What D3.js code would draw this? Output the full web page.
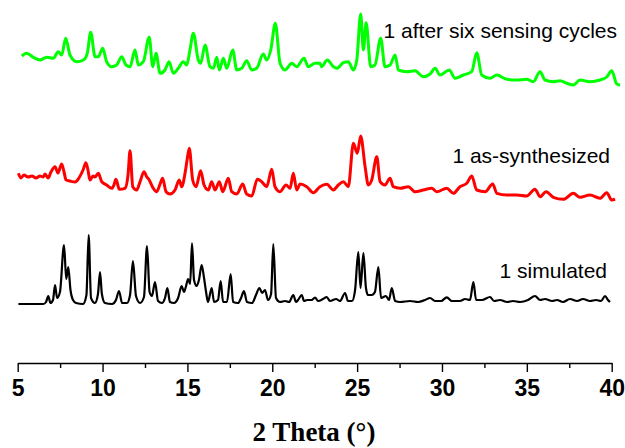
<!DOCTYPE html>
<html>
<head>
<meta charset="utf-8">
<script src="https://cdn.jsdelivr.net/npm/d3@7"></script>
<style>
  body { margin: 0; background: #fff; }
  #chart { width: 625px; height: 448px; }
</style>
</head>
<body>
<div id="chart"></div>
<script>
// PXRD patterns, [2theta, intensity (a.u., traces stacked)]
const simulated = [
  [5.04,59],[6.51,59],[6.67,61],[6.80,67],[6.93,60],[7.08,63],[7.20,78],[7.32,65],[7.49,71],
  [7.73,118],[7.86,84],[7.98,96],[8.11,73],[8.26,63],[8.44,60],[8.85,59],[9.05,68],[9.18,128],
  [9.32,65],[9.55,60],[9.73,69],[9.85,91],[9.96,69],[10.14,60],[10.56,59],[10.79,63],[10.97,72],
  [11.15,60],[11.44,60],[11.62,68],[11.79,102],[11.97,67],[12.21,60],[12.44,66],[12.62,117],
  [12.77,71],[12.91,67],[13.09,81],[13.27,62],[13.50,60],[13.68,65],[13.82,75],[13.97,61],
  [14.21,60],[14.45,65],[14.66,77],[14.80,71],[14.92,77],[15.04,84],[15.16,79],[15.27,120],
  [15.39,83],[15.54,77],[15.68,83],[15.84,98],[15.98,85],[16.10,71],[16.21,61],[16.43,75],
  [16.57,61],[16.80,63],[16.96,82],[17.10,61],[17.33,61],[17.55,89],[17.69,61],[17.98,60],
  [18.16,65],[18.33,72],[18.51,61],[18.81,60],[19.04,68],[19.24,75],[19.40,70],[19.57,73],
  [19.75,63],[19.93,69],[20.06,119],[20.22,65],[20.46,61],[20.75,62],[20.99,61],[21.24,68],
  [21.40,61],[21.52,63],[21.74,68],[21.87,62],[22.05,63],[22.32,63],[22.52,65.5],[22.70,62],
  [22.99,64],[23.21,66],[23.40,62],[23.76,64],[23.99,62],[24.29,70],[24.46,62],[24.70,62],
  [24.88,73],[25.07,111],[25.20,75],[25.37,110],[25.52,75],[25.64,68],[25.86,68],[26.05,71],
  [26.25,96],[26.41,65],[26.70,67],[26.88,63],[27.04,75],[27.24,62],[27.53,61],[28.12,62],
  [28.59,61],[29.00,63],[29.30,65],[29.59,62],[29.95,62],[30.28,65.7],[30.59,62],[31.06,62],
  [31.36,64],[31.65,63],[31.85,81],[32.01,63],[32.36,63],[32.83,66],[33.07,62],[33.42,63],
  [33.84,61],[34.19,62],[34.60,61],[35.07,63],[35.48,67],[35.78,63],[36.07,64],[36.49,62],
  [36.78,63],[37.13,61],[37.54,64],[37.96,62],[38.31,64],[38.72,62],[39.08,63],[39.37,62],
  [39.61,67],[39.78,63],[39.90,61]
];

const asSynthesized = [
  [5.04,189.7],[5.19,185],[5.37,188],[5.61,186],[5.84,187],[6.08,185],[6.31,187],[6.51,186],
  [6.61,189],[6.79,185],[6.96,191],[7.20,196.3],[7.37,190],[7.59,199],[7.73,191],[7.85,183],
  [8.08,182],[8.38,181],[8.61,185],[8.85,193],[9.02,200.3],[9.14,193],[9.26,183],[9.44,187],
  [9.55,186],[9.75,189.7],[9.95,181.3],[10.24,178],[10.54,174.7],[10.67,178],[10.79,183.7],
  [10.99,173.7],[11.32,174.7],[11.50,188],[11.62,212.3],[11.78,176.3],[12.01,173],[12.21,181.3],
  [12.44,191.3],[12.60,186.3],[12.75,183],[12.99,174.7],[13.19,171.3],[13.39,179],[13.54,184.7],
  [13.74,171.3],[13.97,169],[14.27,173],[14.52,183],[14.66,176.3],[14.86,189.7],[14.98,203],
  [15.11,214.7],[15.31,183],[15.51,176.3],[15.78,192.3],[15.98,178],[16.23,173],[16.43,181.3],
  [16.63,173],[16.88,181.3],[17.08,171.3],[17.41,184.7],[17.61,171.3],[17.91,169],[18.26,179],
  [18.49,169],[18.79,167],[19.12,183.7],[19.38,181.3],[19.67,176.3],[19.97,193.7],[20.16,176.3],
  [20.46,171.3],[20.81,178],[21.05,174.7],[21.24,189.7],[21.44,173],[21.64,179],[22.03,176.3],
  [22.42,170.3],[22.81,176.3],[23.21,178.7],[23.60,173],[23.89,178],[24.19,181.3],[24.48,176.3],
  [24.78,219.7],[25.01,209.7],[25.21,227],[25.47,196.3],[25.66,178],[25.86,183],[26.16,206.3],
  [26.35,181.3],[26.64,178],[26.94,184.7],[27.13,176.3],[27.53,174.7],[28.02,176.3],[28.41,171.3],
  [28.90,173],[29.40,174.7],[29.69,171.3],[30.28,174.7],[30.67,169.7],[31.06,176.3],[31.46,179.7],
  [31.75,187],[32.05,173],[32.54,171.3],[32.99,179],[33.23,169.7],[33.82,168],[34.40,168],
  [34.99,167],[35.48,173.7],[35.78,166.3],[36.13,171.3],[36.56,165.7],[37.15,163.7],[37.74,169.7],
  [38.13,165.7],[38.72,168],[39.31,164.7],[39.71,170.3],[40.00,163],[40.20,163.7]
];

const afterCycles = [
  [5.24,307],[5.53,309.7],[5.92,305.7],[6.31,303],[6.71,305.7],[7.10,304.7],[7.39,311.3],
  [7.59,308],[7.83,324.7],[8.08,308],[8.48,301.3],[8.87,303],[9.10,309.7],[9.30,330.7],
  [9.56,306.3],[9.75,306.3],[10.01,314.7],[10.24,301.3],[10.54,296.3],[10.83,298],[11.13,306.3],
  [11.38,298],[11.62,296.3],[11.91,313],[12.11,298],[12.40,301.3],[12.75,325.7],[12.96,296.3],
  [13.15,309.7],[13.39,289.7],[13.68,293],[13.92,301.3],[14.17,289.7],[14.46,294.7],[14.76,301.3],
  [14.96,298],[15.15,313],[15.35,329.7],[15.64,303],[15.78,299.7],[16.04,318],[16.33,296.3],
  [16.53,294.7],[16.73,305.7],[16.88,293],[17.12,304.7],[17.32,294.7],[17.67,313],[17.91,293],
  [18.20,294.7],[18.49,302.3],[18.79,293],[19.08,294.7],[19.47,309],[19.67,303],[19.91,313],
  [20.18,339.7],[20.46,299.7],[20.75,293],[21.15,299.7],[21.44,296.3],[21.87,304.7],[22.12,296.3],
  [22.52,299.7],[22.81,299.7],[22.91,296.3],[23.24,303],[23.60,296.3],[23.80,294.7],[24.19,300.3],
  [24.48,301.3],[24.78,293],[24.98,303],[25.21,349],[25.37,313],[25.53,340.3],[25.80,296.3],
  [26.05,298],[26.39,324.7],[26.64,296.3],[26.94,298],[27.24,308],[27.43,293],[27.92,291.3],
  [28.41,292.3],[28.90,286.3],[29.30,289],[29.59,294.7],[29.88,288],[30.43,293],[30.77,284.7],
  [31.26,288],[31.75,291.3],[32.05,310.3],[32.34,288],[32.83,284.7],[33.23,288],[33.82,283.7],
  [34.40,283],[34.99,283.7],[35.38,281.3],[35.78,291.3],[36.07,283],[36.56,281.3],[36.96,282.3],
  [37.35,279.7],[37.74,278],[38.13,283],[38.72,281.3],[39.31,283],[39.71,286],[40.00,292.3],
  [40.30,279],[40.49,278]
];

const majorTicks = [5, 10, 15, 20, 25, 30, 35, 40];
const minorTicks = [7.5, 12.5, 17.5, 22.5, 27.5, 32.5, 37.5];

const traces = [
  { name: "1 after six sensing cycles", data: afterCycles, color: "#00ff00", width: 3, labelX: 617, labelY: 38 },
  { name: "1 as-synthesized", data: asSynthesized, color: "#ff0000", width: 3, labelX: 610, labelY: 163 },
  { name: "1 simulated", data: simulated, color: "#000000", width: 2.2, labelX: 607, labelY: 278 }
];

const width = 625, height = 448;
const axisY = 363;

const svg = d3.select("#chart")
  .append("svg")
  .attr("width", width)
  .attr("height", height);

const x = d3.scaleLinear().domain([5, 40]).range([17.7, 611.7]);
const y = d3.scaleLinear().domain([0, axisY]).range([axisY, 0]);

const line = d3.line()
  .curve(d3.curveMonotoneX)
  .x(d => x(d[0]))
  .y(d => y(d[1]));

// traces
traces.forEach(t => {
  svg.append("path")
    .datum(t.data)
    .attr("d", line)
    .attr("fill", "none")
    .attr("stroke", t.color)
    .attr("stroke-width", t.width)
    .attr("stroke-linejoin", "round");

  svg.append("text")
    .attr("x", t.labelX)
    .attr("y", t.labelY)
    .attr("text-anchor", "end")
    .style("font-family", "'Liberation Sans', Arial, sans-serif")
    .style("font-size", "21px")
    .style("fill", "#000")
    .text(t.name);
});

// minor ticks
svg.append("g")
  .attr("transform", `translate(0,${axisY})`)
  .call(d3.axisBottom(x).tickValues(minorTicks).tickSize(5).tickSizeOuter(0).tickFormat(""))
  .call(g => g.select(".domain").remove())
  .selectAll("line")
  .attr("stroke-width", 1.4);

// major ticks + axis line
const xAxis = svg.append("g")
  .attr("transform", `translate(0,${axisY})`)
  .call(d3.axisBottom(x).tickValues(majorTicks).tickSize(9).tickSizeOuter(0).tickFormat(d3.format("d")));

xAxis.select(".domain").attr("stroke-width", 1.4);
xAxis.selectAll(".tick line").attr("stroke-width", 1.4);
xAxis.selectAll("text")
  .attr("y", 33)
  .attr("dy", 0)
  .style("font-family", "'Liberation Sans', Arial, sans-serif")
  .style("font-size", "23px")
  .style("font-weight", "bold")
  .style("fill", "#000");

// x-axis label
svg.append("text")
  .attr("x", 314)
  .attr("y", 441)
  .attr("text-anchor", "middle")
  .style("font-family", "'Liberation Serif', 'Times New Roman', serif")
  .style("font-size", "27px")
  .style("font-weight", "bold")
  .text("2 Theta (°)");
</script>
</body>
</html>
